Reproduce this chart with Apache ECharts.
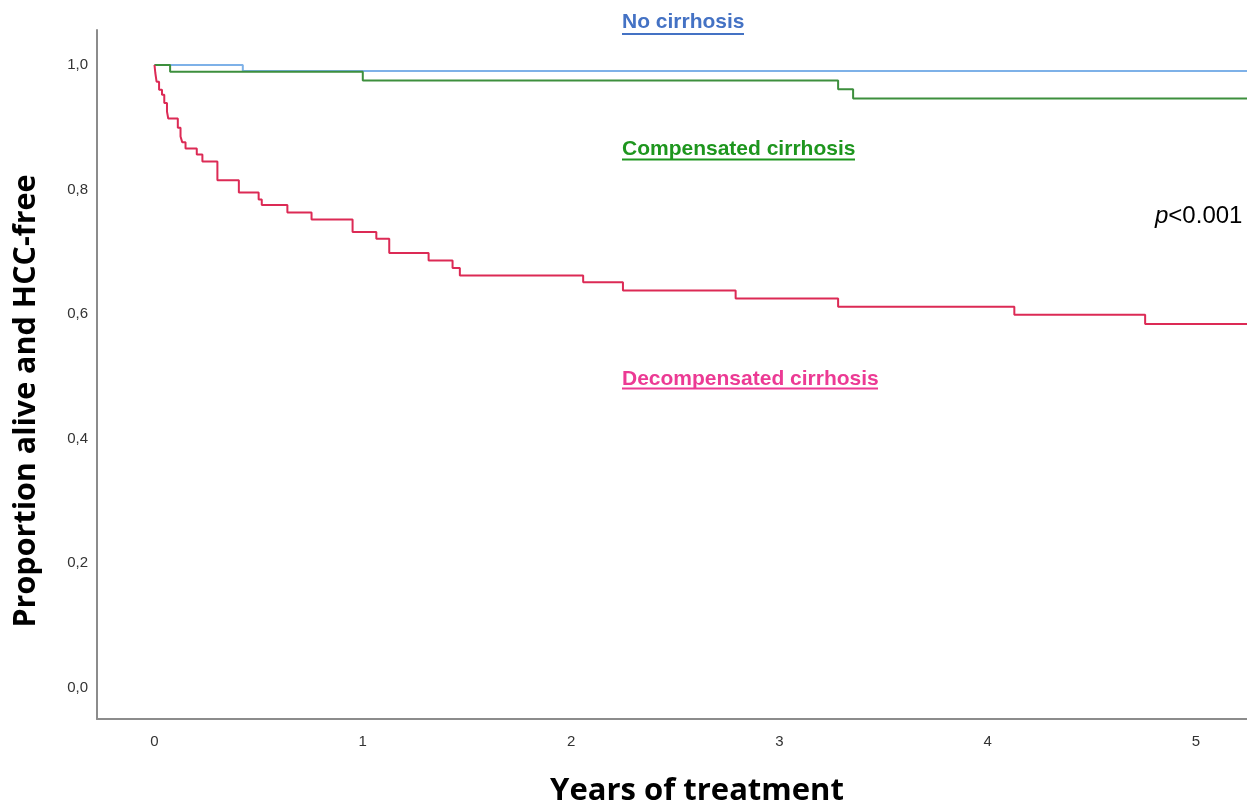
<!DOCTYPE html>
<html>
<head>
<meta charset="utf-8">
<script src="https://cdn.jsdelivr.net/npm/echarts@6/dist/echarts.min.js"></script>
<style>
html,body{margin:0;padding:0;background:#fff;}
#chart{width:1247px;height:805px;}
</style>
</head>
<body>
<div id="chart"></div>
<script>
// ---- Data (Kaplan-Meier step points: time in years, survival proportion) ----
const noCirrTime = [0, 0.424, 5.245];
const noCirrSurv = [1.0, 0.990, 0.990];

const compTime = [0, 0.075, 1.0, 3.282, 3.354, 5.245];
const compSurv = [1.0, 0.989, 0.975, 0.961, 0.946, 0.946];

const decompTime = [0, 0.004, 0.010, 0.022, 0.036, 0.047, 0.060, 0.066, 0.112, 0.125, 0.133, 0.149,
  0.203, 0.230, 0.302, 0.405, 0.500, 0.515, 0.638, 0.754, 0.951, 1.065, 1.127, 1.316, 1.431, 1.466,
  2.058, 2.249, 2.790, 3.282, 4.128, 4.756, 5.245];
const decompSurv = [1.0, 0.987, 0.973, 0.960, 0.952, 0.939, 0.925, 0.914, 0.899, 0.885, 0.876, 0.866,
  0.856, 0.845, 0.815, 0.795, 0.784, 0.775, 0.763, 0.752, 0.732, 0.721, 0.698, 0.686, 0.674, 0.662,
  0.651, 0.638, 0.625, 0.612, 0.599, 0.584, 0.584];

const xTicks = [0, 1, 2, 3, 4, 5];
const yTicks = [0, 0.2, 0.4, 0.6, 0.8, 1.0];

const seriesNames = ['No cirrhosis', 'Compensated cirrhosis', 'Decompensated cirrhosis'];

function pairs(t, s) { return t.map((v, i) => [v, s[i]]); }

const chart = echarts.init(document.getElementById('chart'), null, {renderer: 'canvas'});

const tickFont = {fontFamily: '"Liberation Sans", Arial, sans-serif', fontSize: 15, color: '#333'};

chart.setOption({
  animation: false,
  backgroundColor: '#fff',
  grid: {left: 97, right: 0, top: 30, bottom: 86, containLabel: false},
  xAxis: {
    type: 'value', min: -0.276, max: 5.245,
    axisLine: {show: true, onZero: false, lineStyle: {color: '#8c8c8c', width: 2}},
    axisTick: {show: false},
    splitLine: {show: false},
    axisLabel: Object.assign({customValues: xTicks, margin: 15, formatter: v => String(Math.round(v))}, tickFont)
  },
  yAxis: {
    type: 'value', min: -0.0498, max: 1.056,
    axisLine: {show: true, onZero: false, lineStyle: {color: '#8c8c8c', width: 2}},
    axisTick: {show: false},
    splitLine: {show: false},
    axisLabel: Object.assign({customValues: yTicks, margin: 9, formatter: v => v.toFixed(1).replace('.', ',')}, tickFont)
  },
  series: [
    {name: seriesNames[0], type: 'line', step: 'end', symbol: 'none', data: pairs(noCirrTime, noCirrSurv),
     lineStyle: {color: '#7eb1e8', width: 2}, z: 3},
    {name: seriesNames[1], type: 'line', step: 'end', symbol: 'none', data: pairs(compTime, compSurv),
     lineStyle: {color: '#3d8f3d', width: 2}, z: 4},
    {name: seriesNames[2], type: 'line', step: 'end', symbol: 'none', data: pairs(decompTime, decompSurv),
     lineStyle: {color: '#dc2a55', width: 2}, z: 5}
  ],
  graphic: [
    {type: 'text', left: 622, top: 12, style: {text: seriesNames[0], fill: '#4472c4',
      font: 'bold 21px "Liberation Sans", Arial, sans-serif'}},
    {type: 'rect', shape: {x: 622, y: 33, width: 122, height: 2}, style: {fill: '#4472c4'}},
    {type: 'text', left: 622, top: 139, style: {text: seriesNames[1], fill: '#1e961e',
      font: 'bold 21px "Liberation Sans", Arial, sans-serif'}},
    {type: 'text', left: 622, top: 369, style: {text: seriesNames[2], fill: '#ec3a94',
      font: 'bold 21px "Liberation Sans", Arial, sans-serif'}},
    {type: 'rect', shape: {x: 622, y: 158.5, width: 233, height: 2}, style: {fill: '#1e961e'}},
    {type: 'rect', shape: {x: 622, y: 387.5, width: 256, height: 2}, style: {fill: '#ec3a94'}},
    {type: 'text', x: 1155, y: 216, style: {
      text: '{i|p}{n|<0.001}', verticalAlign: 'middle', align: 'left',
      rich: {
        i: {font: 'italic 24px "Liberation Sans", Arial, sans-serif', fill: '#000'},
        n: {font: '24px "Liberation Sans", Arial, sans-serif', fill: '#000'}
      }}},
    {type: 'text', x: 697, y: 791, style: {text: 'Years of treatment', align: 'center', verticalAlign: 'middle',
      fill: '#000', font: 'bold 31px "Open Sans", sans-serif'}},
    {type: 'text', x: 26, y: 401, rotation: Math.PI / 2, style: {text: 'Proportion alive and HCC-free',
      align: 'center', verticalAlign: 'middle', fill: '#000', font: 'bold 30.5px "Open Sans", sans-serif'}}
  ]
});
</script>
</body>
</html>
